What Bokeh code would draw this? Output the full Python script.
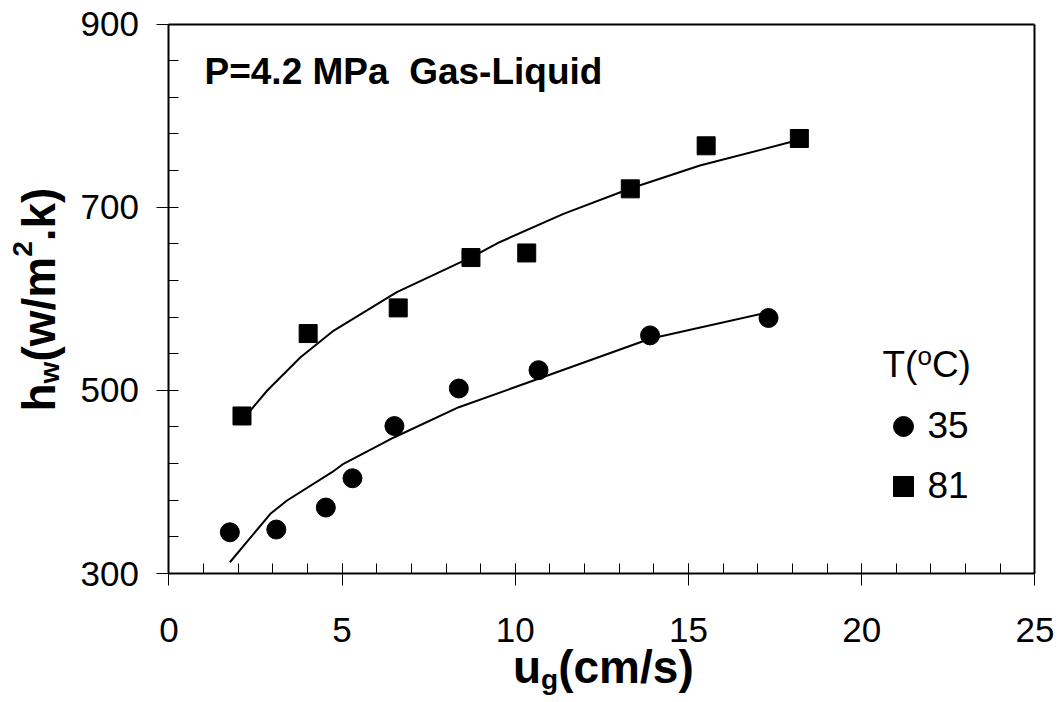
import math
from bokeh.plotting import figure
from bokeh.models import Label, Legend, LegendItem, FixedTicker, Range1d, LinearAxis
from bokeh.embed import file_html
from bokeh.resources import INLINE

# ---- data ----
u_35 = [1.76, 3.10, 4.53, 5.30, 6.51, 8.37, 10.67, 13.89, 17.31]
h_35 = [345, 348, 372, 404, 461, 502, 522, 560, 579]
u_81 = [2.11, 4.02, 6.62, 8.72, 10.33, 13.32, 15.51, 18.20]
h_81 = [472, 562, 590, 645, 650, 720, 767, 775]

fit35_u = [1.76, 2.93, 3.41, 4.71, 5.04, 6.51, 8.37, 10.67, 13.89, 17.31]
fit35_h = [312.3, 365.2, 379.7, 410.6, 419.8, 448.8, 481.6, 512.6, 556.3, 585.3]
fit81_u = [2.11, 2.84, 3.80, 4.76, 6.58, 8.72, 9.56, 11.39, 13.32, 15.33, 18.20]
fit81_h = [467.0, 499.8, 536.2, 565.3, 607.2, 645.1, 662.0, 692.7, 720.4, 745.5, 773.6]

x_ticks = [0, 5, 10, 15, 20, 25]
y_ticks = [300, 500, 700, 900]
legend_labels = ["35", "81"]

FONT = "Liberation Sans"

# ---- layout (pixels) ----
W, H = 1062, 702
BOX_L, BOX_R, BOX_T, BOX_B = 168.4, 1034.4, 23.5, 573.0
XMIN, XMAX, YMIN, YMAX = 0, 25, 300, 900
sx = (BOX_R - BOX_L) / (XMAX - XMIN)
sy = (BOX_B - BOX_T) / (YMAX - YMIN)
x_range = Range1d(XMIN - BOX_L / sx, XMAX + (W - BOX_R) / sx)
y_range = Range1d(YMIN - (H - BOX_B) / sy, YMAX + BOX_T / sy)

p = figure(width=W, height=H, output_backend="svg", toolbar_location=None,
           x_range=x_range, y_range=y_range, min_border=0,
           min_border_left=0, min_border_right=0, min_border_top=0, min_border_bottom=0)
p.xgrid.visible = False
p.ygrid.visible = False
p.background_fill_color = "white"
p.border_fill_color = "white"
p.outline_line_color = None

xa = p.xaxis[0]
ya = p.yaxis[0]
xa.fixed_location = YMIN
ya.fixed_location = XMIN
xa.bounds = (XMIN, XMAX)
ya.bounds = (YMIN, YMAX)

for ax in (xa, ya):
    ax.axis_line_color = "black"
    ax.axis_line_width = 2
    ax.major_tick_line_color = "black"
    ax.minor_tick_line_color = "black"
    ax.major_tick_line_width = 1
    ax.minor_tick_line_width = 1
    ax.major_tick_out = 12
    ax.minor_tick_in = 10
    ax.minor_tick_out = 0
    ax.major_label_text_font = FONT
    ax.major_label_text_font_size = "35px"
    ax.major_label_text_color = "black"
    ax.axis_label = None

xa.ticker = FixedTicker(ticks=x_ticks, minor_ticks=list(range(0, 26)))
ya.ticker = FixedTicker(ticks=y_ticks, minor_ticks=list(range(300, 901, 40)))
xa.major_tick_in = 10
ya.major_tick_in = 0
xa.major_label_standoff = 32
ya.major_label_standoff = 18

# top and right border of the box
top_ax = LinearAxis(fixed_location=YMAX, bounds=(XMIN, XMAX), ticker=FixedTicker(ticks=[]),
                    axis_line_color="black", axis_line_width=2,
                    major_tick_out=0, major_tick_in=0, minor_tick_out=0, minor_tick_in=0,
                    major_label_text_font_size="0px")
right_ax = LinearAxis(fixed_location=XMAX, bounds=(YMIN, YMAX), ticker=FixedTicker(ticks=[]),
                      axis_line_color="black", axis_line_width=2,
                      major_tick_out=0, major_tick_in=0, minor_tick_out=0, minor_tick_in=0,
                      major_label_text_font_size="0px")
p.add_layout(top_ax, "above")
p.add_layout(right_ax, "right")

# fitted curves
p.line(fit35_u, fit35_h, line_color="black", line_width=2)
p.line(fit81_u, fit81_h, line_color="black", line_width=2)

# data points
r35 = p.scatter(u_35, h_35, marker="circle", size=19, fill_color="black", line_color="black")
r81 = p.scatter(u_81, h_81, marker="square", size=18, fill_color="black", line_color="black")

legend = Legend(items=[LegendItem(label=legend_labels[0], renderers=[r35]),
                       LegendItem(label=legend_labels[1], renderers=[r81])],
                location=(877.5, H - 511), glyph_width=50, glyph_height=50, spacing=10,
                padding=0, margin=0, border_line_color=None, background_fill_color=None,
                label_text_font=FONT, label_text_font_size="37px", label_text_color="black",
                label_standoff=-4)
p.add_layout(legend)

OFF = 0.36  # baseline correction (em)


def piece(text, cx, cy, size, bold=False, rotated=False):
    """Place text with its alphabetic baseline start at canvas pixel (cx, cy)."""
    if rotated:
        x, y, angle = cx - OFF * size, H - cy, math.pi / 2
    else:
        x, y, angle = cx, H - (cy - OFF * size), 0.0
    p.add_layout(Label(x=x, y=y, x_units="screen", y_units="screen", text=text,
                       text_font=FONT, text_font_size=f"{size}px",
                       text_font_style="bold" if bold else "normal",
                       text_color="black", text_align="left", text_baseline="alphabetic",
                       angle=angle))


# title text inside the plot (two words groups separated by a double space)
TS = 37
piece("P=4.2 MPa", 204, 84.3, TS, bold=True)
piece("Gas-Liquid", 204 + 4.975 * TS + 2 * 0.278 * TS, 84.3, TS, bold=True)

# legend heading T(oC)
piece("T(", 882, 377.3, 37)
piece("o", 882 + 34.9, 365.3, 26)
piece("C)", 882 + 34.9 + 14.5, 377.3, 37)

# x axis label u_g(cm/s)
BIG = 46
SMALL = 28
bx, by = 512.5, 683.3
piece("u", bx, by, BIG, bold=True)
piece("g", bx + 0.611 * BIG, by + 6, SMALL, bold=True)
piece("(cm/s)", bx + 0.611 * BIG + 0.611 * SMALL, by, BIG, bold=True)

# y axis label h_w(w/m^2.k), rotated (reads bottom to top)
xb = 55
cy = 411
piece("h", xb, cy, BIG, bold=True, rotated=True)
cy -= 0.611 * BIG
piece("w", xb + 4, cy, SMALL, bold=True, rotated=True)
cy -= 0.778 * SMALL
piece("(w/m", xb, cy, BIG, bold=True, rotated=True)
cy -= 2.278 * BIG
piece("2", xb - 23, cy, SMALL, bold=True, rotated=True)
cy -= 0.556 * SMALL
piece(".k)", xb, cy, BIG, bold=True, rotated=True)

open("out.html", "w").write(file_html(p, INLINE))
